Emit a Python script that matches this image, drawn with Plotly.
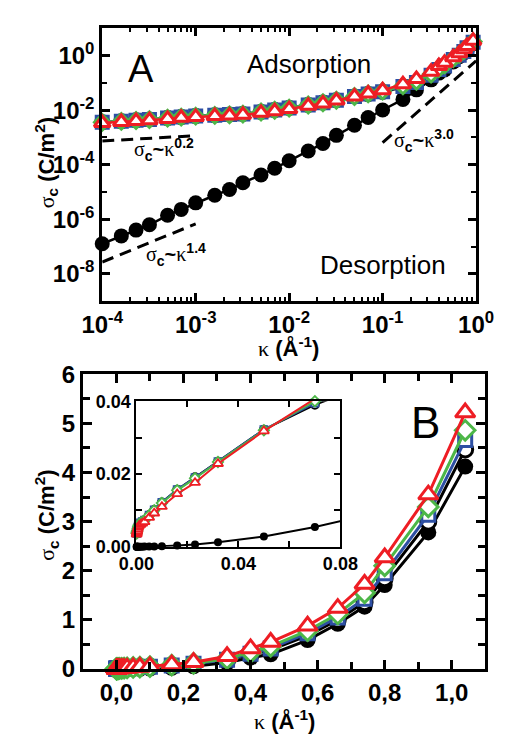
import plotly.graph_objects as go

# ---------------------------------------------------------------------------
# Data: critical surface charge density sigma_c (C/m^2) vs inverse Debye length
# ---------------------------------------------------------------------------
kappa = [1e-4, 1.6e-4, 2.3e-4, 3.2e-4, 5e-4, 7e-4,
         1e-3, 1.6e-3, 2.3e-3, 3.2e-3, 5e-3, 7e-3,
         1e-2, 1.6e-2, 2.3e-2, 3.2e-2, 5e-2, 7e-2,
         0.1, 0.165, 0.23, 0.33, 0.40, 0.46, 0.57, 0.66, 0.74, 0.80, 0.93, 1.04]

sigma_desorb = [1.26e-7, 2.45e-7, 4.0e-7, 6.3e-7, 1.4e-6, 2.3e-6,
                4.0e-6, 7.6e-6, 1.23e-5, 2.2e-5, 4.2e-5, 7.4e-5,
                1.4e-4, 3.2e-4, 6.0e-4, 1.2e-3, 2.8e-3, 5.4e-3,
                1.02e-2, 2.5e-2, 5.6e-2, 0.13, 0.23, 0.30, 0.59, 0.92, 1.27, 1.71, 2.78, 4.12]

sigma_open = [3.65e-3, 3.95e-3, 4.25e-3, 4.6e-3, 5.15e-3, 5.65e-3,
              6.1e-3, 6.55e-3, 6.9e-3, 7.3e-3, 8.7e-3, 1.01e-2,
              1.22e-2, 1.57e-2, 1.91e-2, 2.34e-2, 3.22e-2, 3.9e-2,
              4.7e-2, 7.0e-2, 0.10, 0.18, 0.29, 0.39, 0.68, 1.00, 1.36, 1.85, 3.00, 4.47]

sigma_blue = [3.65e-3, 3.95e-3, 4.25e-3, 4.6e-3, 5.15e-3, 5.65e-3,
              6.1e-3, 6.55e-3, 6.9e-3, 7.3e-3, 8.7e-3, 1.01e-2,
              1.22e-2, 1.57e-2, 1.9e-2, 2.34e-2, 3.22e-2, 3.95e-2,
              4.8e-2, 7.4e-2, 0.105, 0.19, 0.31, 0.42, 0.73, 1.05, 1.43, 1.95, 3.14, 4.66]

sigma_green = [3.6e-3, 3.9e-3, 4.2e-3, 4.55e-3, 5.1e-3, 5.6e-3,
               6.05e-3, 6.5e-3, 6.8e-3, 7.2e-3, 8.6e-3, 1.0e-2,
               1.2e-2, 1.55e-2, 1.88e-2, 2.33e-2, 3.2e-2, 4.0e-2,
               5.0e-2, 7.8e-2, 0.115, 0.21, 0.34, 0.46, 0.78, 1.12, 1.55, 2.10, 3.30, 4.86]

sigma_red = [3.4e-3, 3.7e-3, 4.0e-3, 4.3e-3, 4.8e-3, 5.3e-3,
             5.7e-3, 6.1e-3, 6.4e-3, 6.8e-3, 8.0e-3, 9.2e-3,
             1.1e-2, 1.45e-2, 1.76e-2, 2.28e-2, 3.18e-2, 4.1e-2,
             5.4e-2, 9.0e-2, 0.14, 0.26, 0.42, 0.55, 0.88, 1.24, 1.73, 2.27, 3.55, 5.22]

# power-law guide segments (kappa, sigma) end points
guide_02_k, guide_02_s = [1e-4, 1e-3], [7.4e-4, 1.17e-3]
guide_14_k, guide_14_s = [1e-4, 1e-3], [2.7e-8, 6.8e-7]
guide_30_k, guide_30_s = [0.1, 1.0], [6.5e-4, 0.65]

# tick labels
a_xticks = [1e-4, 1e-3, 1e-2, 1e-1, 1e0]
a_xlabels = ["10<sup>-4</sup>", "10<sup>-3</sup>", "10<sup>-2</sup>", "10<sup>-1</sup>", "10<sup>0</sup>"]
a_yticks = [1e0, 1e-2, 1e-4, 1e-6, 1e-8]
a_ylabels = ["10<sup>0</sup>", "10<sup>-2</sup>", "10<sup>-4</sup>", "10<sup>-6</sup>", "10<sup>-8</sup>"]
b_xticks = [0.0, 0.2, 0.4, 0.6, 0.8, 1.0]
b_xlabels = ["0,0", "0,2", "0,4", "0,6", "0,8", "1,0"]
b_yticks = [0, 1, 2, 3, 4, 5, 6]
b_ylabels = ["0", "1", "2", "3", "4", "5", "6"]
in_xticks = [0.0, 0.04, 0.08]
in_xlabels = ["0.00", "0.04", "0.08"]
in_yticks = [0.0, 0.02, 0.04]
in_ylabels = ["0.00", "0.02", "0.04"]

# ---------------------------------------------------------------------------
W, H = 507, 735
RED, BLUE, GREEN, BLACK = "#ee1d24", "#2d4fa3", "#4db748", "#000000"
SANS = "Liberation Sans"


def px(x):
    return x / W


def py(y):
    return 1 - y / H


def serif(ch):
    return f'<span style="font-family:Liberation Serif;font-weight:normal">{ch}</span>'


series = [
    (sigma_desorb, "circle", BLACK, BLACK),
    (sigma_open, "circle", BLACK, "white"),
    (sigma_blue, "square", BLUE, "white"),
    (sigma_green, "diamond", GREEN, "white"),
    (sigma_red, "triangle-up", RED, "white"),
]

# marker sizes per panel: (A, B, inset); filled circles are slightly larger
sizes = {"circle": (13, 15, 8), "square": (12, 13, 7), "diamond": (12, 15, 8),
         "triangle-up": (14, 17, 9)}

fig = go.Figure()

# power-law guides (panel A)
for gk, gs in [(guide_02_k, guide_02_s), (guide_14_k, guide_14_s), (guide_30_k, guide_30_s)]:
    fig.add_trace(go.Scatter(x=gk, y=gs, mode="lines", xaxis="x", yaxis="y",
                             line=dict(color=BLACK, width=3, dash="12px,7px"),
                             hoverinfo="skip"))

for vals, sym, col, fill in series:
    sa, sb, si = sizes[sym]
    filled = fill != "white"
    lw_open = 0 if filled else 3
    if filled:
        sa, sb = sa + 2, sb + 1
    # panel A (log-log)
    fig.add_trace(go.Scatter(
        x=kappa, y=vals, mode="lines+markers", xaxis="x", yaxis="y", cliponaxis=False,
        line=dict(color=col, width=2.5),
        marker=dict(symbol=sym, size=sa, color=fill, line=dict(color=col, width=lw_open))))
    # panel B (linear)
    fig.add_trace(go.Scatter(
        x=kappa, y=vals, mode="lines+markers", xaxis="x2", yaxis="y2", cliponaxis=False,
        line=dict(color=col, width=3),
        marker=dict(symbol=sym, size=sb, color=fill, line=dict(color=col, width=lw_open))))

for vals, sym, col, fill in series:
    sa, sb, si = sizes[sym]
    lw_open = 1.8 if fill == "white" else 0
    # inset: line over all points (clipped), markers only inside the window
    fig.add_trace(go.Scatter(x=kappa, y=vals, mode="lines", xaxis="x3", yaxis="y3",
                             line=dict(color=col, width=2)))
    kin = [k for k, s in zip(kappa, vals) if k <= 0.08 and s <= 0.04]
    sin = [s for k, s in zip(kappa, vals) if k <= 0.08 and s <= 0.04]
    fig.add_trace(go.Scatter(
        x=kin, y=sin, mode="markers", xaxis="x3", yaxis="y3", cliponaxis=False,
        marker=dict(symbol=sym, size=si, color=fill, line=dict(color=col, width=lw_open))))

tickfont = dict(family=SANS, size=24, color=BLACK, weight="bold")
inset_font = dict(family=SANS, size=18, color=BLACK, weight="bold")
common = dict(showline=True, linecolor=BLACK, mirror="allticks", ticks="inside",
              tickcolor=BLACK, showgrid=False, zeroline=False)

minor_a_x = [m * 10.0 ** e for e in range(-4, 0) for m in range(2, 10)]

fig.update_layout(
    width=W, height=H, margin=dict(l=0, r=0, t=0, b=0),
    paper_bgcolor="white", plot_bgcolor="white", showlegend=False,
    xaxis=dict(domain=[px(88), px(493)], anchor="y", type="log", range=[-4, 0],
               tickmode="array", tickvals=a_xticks, ticktext=a_xlabels,
               ticklen=8, tickwidth=2.5, linewidth=3, tickfont=tickfont,
               minor=dict(tickvals=minor_a_x, ticks="inside", ticklen=4, tickwidth=2,
                          tickcolor=BLACK), **common),
    yaxis=dict(domain=[py(298), py(15)], anchor="x", type="log", range=[-9, 1],
               tickmode="array", tickvals=a_yticks, ticktext=a_ylabels,
               ticklen=8, tickwidth=2.5, linewidth=3, tickfont=tickfont,
               minor=dict(tickvals=[1e-1, 1e-3, 1e-5, 1e-7], ticks="inside", ticklen=5,
                          tickwidth=2, tickcolor=BLACK), **common),
    xaxis2=dict(domain=[px(67), px(503)], anchor="y2", range=[-0.1, 1.1],
                tickmode="array", tickvals=b_xticks, ticktext=b_xlabels,
                ticklen=9, tickwidth=2.5, linewidth=3, tickfont=tickfont,
                minor=dict(dtick=0.1, tick0=0, ticks="inside", ticklen=7, tickwidth=2.5,
                           tickcolor=BLACK), **common),
    yaxis2=dict(domain=[py(680), py(374)], anchor="x2", range=[0, 6],
                tickmode="array", tickvals=b_yticks, ticktext=b_ylabels,
                ticklen=9, tickwidth=2.5, linewidth=3, tickfont=tickfont,
                minor=dict(dtick=0.5, tick0=0, ticks="inside", ticklen=7, tickwidth=2.5,
                           tickcolor=BLACK), **common),
    xaxis3=dict(domain=[px(125), px(346)], anchor="y3", range=[0, 0.08],
                tickmode="array", tickvals=in_xticks, ticktext=in_xlabels,
                ticklen=6, tickwidth=2, linewidth=2, tickfont=inset_font,
                minor=dict(dtick=0.02, tick0=0, ticks="inside", ticklen=6, tickwidth=2,
                           tickcolor=BLACK), **common),
    yaxis3=dict(domain=[py(553), py(402)], anchor="x3", range=[0, 0.04],
                tickmode="array", tickvals=in_yticks, ticktext=in_ylabels,
                ticklen=6, tickwidth=2, linewidth=2, tickfont=inset_font,
                minor=dict(dtick=0.01, tick0=0, ticks="inside", ticklen=6, tickwidth=2,
                           tickcolor=BLACK), **common),
)

label_font = dict(family=SANS, size=22, color=BLACK, weight="bold")
plain = dict(family=SANS, color=BLACK)
guide_font = dict(family=SANS, size=20, color=BLACK, weight="bold")

ann = [
    dict(text="A", x=px(130), y=py(57), font=dict(size=38, **plain)),
    dict(text="Adsorption", x=px(312), y=py(52), font=dict(size=26, **plain)),
    dict(text="Desorption", x=px(392), y=py(261), font=dict(size=26, **plain)),
    dict(text="B", x=px(438), y=py(424), font=dict(size=44, **plain)),
    dict(text=serif("σ") + "<sub>c</sub>~" + serif("κ") + "<sup>0.2</sup>",
         x=px(155), y=py(141), font=guide_font),
    dict(text=serif("σ") + "<sub>c</sub>~" + serif("κ") + "<sup>1.4</sup>",
         x=px(168), y=py(250), font=guide_font),
    dict(text=serif("σ") + "<sub>c</sub>~" + serif("κ") + "<sup>3.0</sup>",
         x=px(437), y=py(131), font=guide_font),
    dict(text=serif("σ") + "<sub>c</sub> (C/m<sup>2</sup>)", x=px(27), y=py(154),
         textangle=-90, font=label_font),
    dict(text=serif("κ") + " (Å<sup>-1</sup>)", x=px(290), y=py(346), font=label_font),
    dict(text=serif("σ") + "<sub>c</sub> (C/m<sup>2</sup>)", x=px(28), y=py(520),
         textangle=-90, font=label_font),
    dict(text=serif("κ") + " (Å<sup>-1</sup>)", x=px(285), y=py(733), font=label_font),
]
for a in ann:
    a.update(xref="paper", yref="paper", showarrow=False, xanchor="center", yanchor="middle")
fig.update_layout(annotations=ann)

fig.write_html("out.html")
